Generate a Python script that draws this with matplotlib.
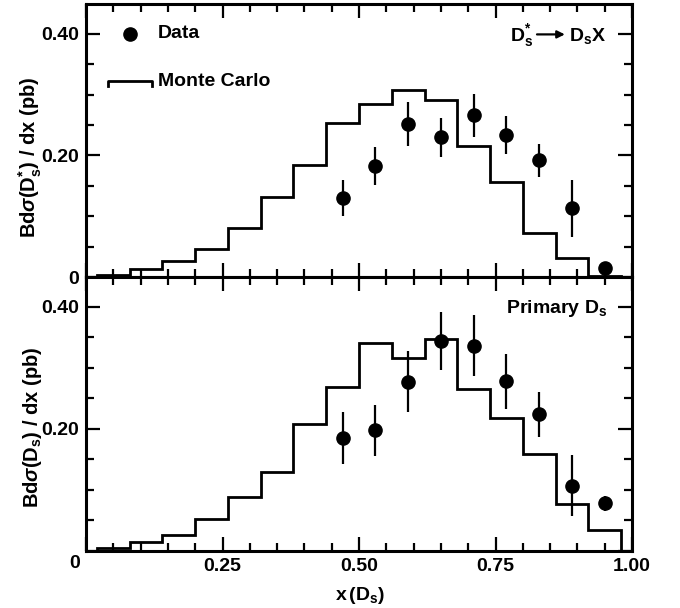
import matplotlib
matplotlib.use("Agg")
import matplotlib.pyplot as plt
from matplotlib.ticker import MultipleLocator

plt.rcParams["font.family"] = ["Liberation Sans", "DejaVu Sans"]
plt.rcParams["font.weight"] = "bold"
plt.rcParams["axes.labelweight"] = "bold"
plt.rcParams["mathtext.fontset"] = "custom"
plt.rcParams["mathtext.rm"] = "Liberation Sans:bold"
plt.rcParams["mathtext.it"] = "Liberation Sans:italic:bold"
plt.rcParams["mathtext.bf"] = "Liberation Sans:bold"
plt.rcParams["mathtext.sf"] = "Liberation Sans:bold"

# Monte Carlo histogram bin edges (x = 0.02 ... 0.98, width 0.06)
bin_edges = [0.02, 0.08, 0.14, 0.20, 0.26, 0.32, 0.38, 0.44, 0.50,
             0.56, 0.62, 0.68, 0.74, 0.80, 0.86, 0.92, 0.98]

# top panel: Ds* -> Ds X
mc_dstar = [0.003, 0.013, 0.026, 0.046, 0.080, 0.132, 0.185, 0.254,
            0.285, 0.307, 0.291, 0.216, 0.157, 0.073, 0.031, 0.002]
# bottom panel: primary Ds
mc_primary = [0.005, 0.014, 0.027, 0.052, 0.089, 0.130, 0.208, 0.269,
              0.341, 0.317, 0.348, 0.265, 0.218, 0.159, 0.077, 0.035]

data_x = [0.47, 0.53, 0.59, 0.65, 0.71, 0.77, 0.83, 0.89, 0.95]
data_dstar = [0.130, 0.183, 0.252, 0.230, 0.266, 0.234, 0.192, 0.113, 0.014]
err_dstar = [0.030, 0.031, 0.036, 0.032, 0.035, 0.031, 0.027, 0.047, 0.005]
data_primary = [0.185, 0.198, 0.277, 0.344, 0.336, 0.278, 0.224, 0.107, 0.078]
err_primary = [0.042, 0.042, 0.050, 0.047, 0.050, 0.045, 0.037, 0.050, 0.012]

W, H = 680, 608
fig = plt.figure(figsize=(W / 100, H / 100), dpi=100)


def px_axes(left, top, right, bottom):
    return fig.add_axes([left / W, 1 - bottom / H, (right - left) / W, (bottom - top) / H])


ax1 = px_axes(86, 4, 632, 277)
ax2 = px_axes(86, 277, 632, 551)

TICK_FS = 14
TEXT_FS = 14


def style(ax):
    ax.set_xlim(0, 1)
    ax.set_ylim(0, 0.449)
    ax.xaxis.set_major_locator(MultipleLocator(0.25))
    ax.xaxis.set_minor_locator(MultipleLocator(0.05))
    ax.yaxis.set_major_locator(MultipleLocator(0.2))
    ax.yaxis.set_minor_locator(MultipleLocator(0.05))
    ax.tick_params(which="both", direction="in", top=True, right=True, width=1.6)
    ax.tick_params(which="major", length=10, labelsize=TICK_FS, pad=5)
    ax.tick_params(which="minor", length=5.5)
    for s in ax.spines.values():
        s.set_linewidth(2.2)


for ax, mc, dy, de in [(ax1, mc_dstar, data_dstar, err_dstar),
                       (ax2, mc_primary, data_primary, err_primary)]:
    style(ax)
    ax.stairs(mc, bin_edges, baseline=0, color="black", linewidth=2.0)
    ax.errorbar(data_x, dy, yerr=de, fmt="o", color="black", markersize=9.5,
                elinewidth=1.6, capsize=0)

ax1.set_yticks([0, 0.2, 0.4])
ax1.set_yticklabels(["0", "0.20", "0.40"])
ax1.tick_params(labelbottom=False)

ax2.set_yticks([0, 0.2, 0.4])
ax2.set_yticklabels(["", "0.20", "0.40"])
ax2.set_xticks([0, 0.25, 0.5, 0.75, 1.0])
ax2.set_xticklabels(["", "0.25", "0.50", "0.75", "1.00"])
fig.text(80 / W, 1 - 563 / H, "0", ha="right", va="center", fontsize=TICK_FS,
         fontweight="bold")

ax1.set_ylabel(r"Bd$\sigma$(D$_\mathrm{s}^{*}$) / dx (pb)", fontsize=14.5)
ax1.yaxis.set_label_coords(-0.077, 0.44)
ax2.set_ylabel(r"Bd$\sigma$(D$_\mathrm{s}$) / dx (pb)", fontsize=14.5)
ax2.yaxis.set_label_coords(-0.077, 0.45)
ax2.set_xlabel(r"x$\,$(D$_\mathrm{s}$)", fontsize=14)
ax2.xaxis.set_label_coords(0.502, -0.125)

# legend drawn by hand
ax1.plot([0.08], [0.4], "o", color="black", markersize=9.5)
ax1.text(0.132, 0.4, "Data", fontsize=TEXT_FS, va="center", ha="left")
ax1.plot([0.04, 0.04, 0.12, 0.12], [0.314, 0.322, 0.322, 0.314], color="black",
         linewidth=2.0)
ax1.text(0.132, 0.321, "Monte Carlo", fontsize=TEXT_FS, va="center", ha="left")

# decay label: D*s -> Ds X
ax1.text(0.82, 0.397, r"D$_\mathrm{s}^{*}$", fontsize=TEXT_FS, ha="right",
         va="center")
ax1.annotate("", xy=(0.877, 0.399), xytext=(0.826, 0.399),
             arrowprops=dict(arrowstyle="-|>", color="black", lw=1.6,
                             mutation_scale=11, shrinkA=0, shrinkB=0))
ax1.text(0.884, 0.397, r"D$_\mathrm{s}$X", fontsize=TEXT_FS, ha="left",
         va="center")
ax2.text(0.955, 0.397, r"Primary D$_\mathrm{s}$", fontsize=TEXT_FS, ha="right",
         va="center")

fig.savefig("out.png", dpi=100)
